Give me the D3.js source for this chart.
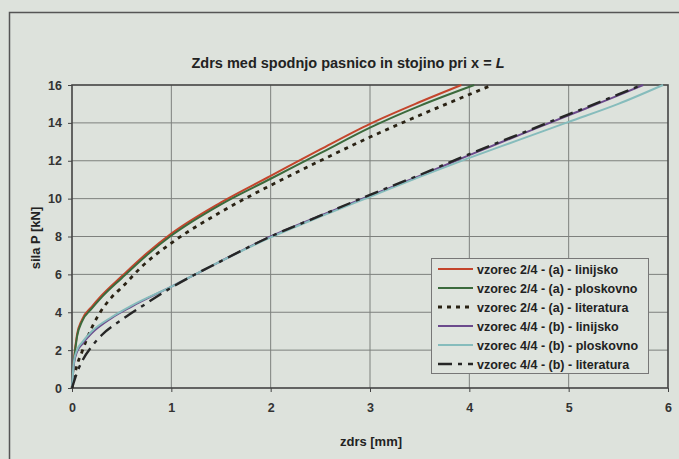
<!DOCTYPE html>
<html>
<head>
<meta charset="utf-8">
<script src="https://cdn.jsdelivr.net/npm/d3@7"></script>
<style>
  body { margin: 0; background: #dde2dc; }
  svg { display: block; font-family: "Liberation Sans", Arial, sans-serif; }
</style>
</head>
<body>
<svg id="chart" width="679" height="459"></svg>
<script>
// data (x = zdrs [mm], y = sila P [kN])
const X_TICKS = [0, 1, 2, 3, 4, 5, 6];
const Y_TICKS = [0, 2, 4, 6, 8, 10, 12, 14, 16];

const A_LIN_X = [0, 0.02, 0.05, 0.1, 0.2, 0.3, 0.5, 0.75, 1, 1.5, 2, 2.5, 3, 3.5, 3.92];
const A_LIN_Y = [0, 1.5, 2.8, 3.6, 4.3, 4.9, 5.9, 7.1, 8.15, 9.8, 11.2, 12.6, 13.95, 15.1, 16];

const A_PLO_X = [0, 0.02, 0.05, 0.1, 0.2, 0.3, 0.5, 0.75, 1, 1.5, 2, 2.5, 3, 3.5, 4.05];
const A_PLO_Y = [0, 1.4, 2.7, 3.5, 4.2, 4.8, 5.8, 7.0, 8.05, 9.7, 11.05, 12.4, 13.75, 14.9, 16];

const A_LIT_X = [0, 0.05, 0.1, 0.15, 0.25, 0.4, 0.5, 0.7, 1, 1.5, 2, 2.5, 3, 3.5, 4, 4.23];
const A_LIT_Y = [0, 1.2, 1.9, 2.6, 3.7, 4.8, 5.3, 6.4, 7.65, 9.3, 10.7, 12.0, 13.25, 14.4, 15.5, 16];

const B_LIN_X = [0, 0.02, 0.05, 0.1, 0.2, 0.4, 0.6, 1, 1.5, 2, 2.5, 3, 3.5, 4, 4.5, 5, 5.5, 5.75];
const B_LIN_Y = [0, 1.3, 1.9, 2.3, 2.9, 3.7, 4.3, 5.35, 6.7, 8.0, 9.1, 10.15, 11.2, 12.3, 13.35, 14.4, 15.45, 16];

const B_PLO_X = [0, 0.02, 0.05, 0.1, 0.2, 0.4, 0.6, 1, 1.5, 2, 2.5, 3, 3.5, 4, 4.5, 5, 5.5, 5.95];
const B_PLO_Y = [0, 1.4, 2.0, 2.4, 3.0, 3.75, 4.35, 5.35, 6.7, 7.95, 9.05, 10.1, 11.15, 12.15, 13.1, 14.05, 15.0, 16];

const B_LIT_X = [0, 0.05, 0.1, 0.2, 0.3, 0.5, 0.7, 1, 1.5, 2, 2.5, 3, 3.5, 4, 4.5, 5, 5.5, 5.73];
const B_LIT_Y = [0, 0.8, 1.4, 2.2, 2.8, 3.6, 4.3, 5.3, 6.7, 8.0, 9.1, 10.2, 11.25, 12.35, 13.4, 14.45, 15.5, 16];

const SERIES = [
    { name: 'vzorec 2/4 - (a) - linijsko', xs: A_LIN_X, ys: A_LIN_Y, color: '#c4452c', width: 2, dash: null },
    { name: 'vzorec 2/4 - (a) - ploskovno', xs: A_PLO_X, ys: A_PLO_Y, color: '#3b6a3c', width: 2, dash: null },
    { name: 'vzorec 2/4 - (a) - literatura', xs: A_LIT_X, ys: A_LIT_Y, color: '#2a2214', width: 2.8, dash: '4,5' },
    { name: 'vzorec 4/4 - (b) - linijsko', xs: B_LIN_X, ys: B_LIN_Y, color: '#6b4a8c', width: 2, dash: null },
    { name: 'vzorec 4/4 - (b) - ploskovno', xs: B_PLO_X, ys: B_PLO_Y, color: '#86bcbc', width: 2, dash: null },
    { name: 'vzorec 4/4 - (b) - literatura', xs: B_LIT_X, ys: B_LIT_Y, color: '#262626', width: 2.4, dash: '14,6,4,6' }
];

const SVG1 = d3.select('#chart');
const LEFT = 72, RIGHT = 668, TOP = 85, BOTTOM = 388;
const FONT = '12.5px';

// outer frame (runs off the scan on the right and bottom)
SVG1.append('rect')
    .attr('x', 9.5).attr('y', 12.5)
    .attr('width', 700).attr('height', 500)
    .style('fill', '#dde2dc')
    .style('stroke', '#555')
    .style('stroke-width', 1.5);

const X_SCALE = d3.scaleLinear().domain([0, 6]).range([LEFT, RIGHT]);
const Y_SCALE = d3.scaleLinear().domain([0, 16]).range([BOTTOM, TOP]);

// grid
const grid = SVG1.append('g').attr('id', 'grid');
grid.selectAll('line.h')
    .data(Y_TICKS.slice(1, -1))
    .join('line')
    .attr('class', 'h')
    .attr('x1', LEFT).attr('x2', RIGHT)
    .attr('y1', d => Y_SCALE(d)).attr('y2', d => Y_SCALE(d))
    .style('stroke', '#7d807d').style('stroke-width', 1);
grid.selectAll('line.v')
    .data(X_TICKS.slice(1, -1))
    .join('line')
    .attr('class', 'v')
    .attr('y1', TOP).attr('y2', BOTTOM)
    .attr('x1', d => X_SCALE(d)).attr('x2', d => X_SCALE(d))
    .style('stroke', '#7d807d').style('stroke-width', 1);

// plot border
SVG1.append('rect')
    .attr('x', LEFT).attr('y', TOP)
    .attr('width', RIGHT - LEFT).attr('height', BOTTOM - TOP)
    .style('fill', 'none')
    .style('stroke', '#444')
    .style('stroke-width', 1.6);

// axes
const X_AXIS = d3.axisBottom(X_SCALE).tickValues(X_TICKS).tickSize(4).tickPadding(11).tickFormat(d3.format('d'));
const xg = SVG1.append('g').attr('transform', `translate(0,${BOTTOM})`).call(X_AXIS);
const Y_AXIS = d3.axisLeft(Y_SCALE).tickValues(Y_TICKS).tickSize(4).tickPadding(6).tickFormat(d3.format('d'));
const yg = SVG1.append('g').attr('transform', `translate(${LEFT},0)`).call(Y_AXIS);
[xg, yg].forEach(g => {
    g.select('.domain').remove();
    g.selectAll('line').style('stroke', '#444');
    g.selectAll('text')
        .style('font-size', FONT)
        .style('font-weight', 'bold')
        .style('fill', '#333');
});

// curves
const line = d3.line().x(d => X_SCALE(d[0])).y(d => Y_SCALE(d[1])).curve(d3.curveMonotoneX);
SVG1.append('g')
    .attr('id', 'curves')
    .selectAll('path')
    .data(SERIES)
    .join('path')
    .attr('d', s => line(s.xs.map((x, i) => [x, s.ys[i]])))
    .style('fill', 'none')
    .style('stroke', s => s.color)
    .style('stroke-width', s => s.width)
    .style('stroke-dasharray', s => s.dash);

// titles
SVG1.append('text')
    .attr('x', 348).attr('y', 68)
    .style('text-anchor', 'middle')
    .style('font-size', '14.5px')
    .style('font-weight', 'bold')
    .style('fill', '#222')
    .text('Zdrs med spodnjo pasnico in stojino pri x = ')
    .append('tspan').style('font-style', 'italic').text('L');

SVG1.append('text')
    .attr('x', 371).attr('y', 446)
    .style('text-anchor', 'middle')
    .style('font-size', '13px')
    .style('font-weight', 'bold')
    .style('fill', '#222')
    .text('zdrs [mm]');

SVG1.append('text')
    .attr('transform', 'translate(40,238) rotate(-90)')
    .style('text-anchor', 'middle')
    .style('font-size', '13px')
    .style('font-weight', 'bold')
    .style('fill', '#222')
    .text('sila P [kN]');

// legend
const LEG_X = 431, LEG_Y = 258, ROW = 19;
const legend = SVG1.append('g').attr('id', 'legend');
legend.append('rect')
    .attr('x', LEG_X + 0.5).attr('y', LEG_Y + 0.5)
    .attr('width', 217).attr('height', 115)
    .style('fill', '#dfe4de')
    .style('stroke', '#777')
    .style('stroke-width', 1);
const rows = legend.selectAll('g.row')
    .data(SERIES)
    .join('g')
    .attr('class', 'row')
    .attr('transform', (d, i) => `translate(${LEG_X},${LEG_Y + 11 + i * ROW})`);
rows.append('line')
    .attr('x1', 7).attr('x2', 42)
    .style('stroke', s => s.color)
    .style('stroke-width', s => s.width)
    .style('stroke-dasharray', s => s.dash);
rows.append('text')
    .attr('x', 46).attr('y', 4.5)
    .style('font-size', FONT)
    .style('font-weight', 'bold')
    .style('fill', '#222')
    .text(s => s.name);
</script>
</body>
</html>
